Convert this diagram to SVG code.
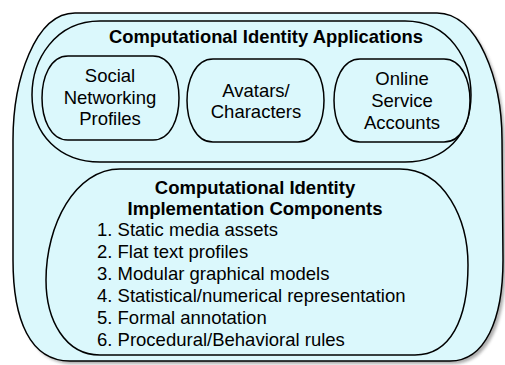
<svg xmlns="http://www.w3.org/2000/svg" width="505" height="365" viewBox="0 0 505 365">
  <defs>
    <filter id="shadow" x="-5%" y="-5%" width="115%" height="115%">
      <feGaussianBlur stdDeviation="1.5"/>
    </filter>
    <style>
      .shape { fill: #dbf8fc; stroke: #000; stroke-width: 1.5; }
      .t { font-family: "Liberation Sans", Arial, sans-serif; fill: #000; font-size: 18.5px; }
      .b { font-weight: bold; text-anchor: middle; }
      .n { text-anchor: middle; }
    </style>
  </defs>
  <rect width="505" height="365" fill="#ffffff"/>

  <g id="outer">
    <path d="M 75,13 H 437 C 478,13 502,80 502,140 L 503,260 C 503,320 485,361 450,361 H 70 C 30,361 13,320 13,260 L 13,140 C 13,80 35,13 75,13 Z" transform="translate(3,3)" fill="#777" opacity="0.6" filter="url(#shadow)"/>
    <path class="shape" d="M 75,13 H 437 C 478,13 502,80 502,140 L 503,260 C 503,320 485,361 450,361 H 70 C 30,361 13,320 13,260 L 13,140 C 13,80 35,13 75,13 Z"/>
  </g>

  <g id="applications">
    <path class="shape" d="M 100,21 H 405 C 450,21 471,60 471,95 C 471,135 445,162 405,162 H 100 C 60,162 32,135 32,95 C 32,60 55,21 100,21 Z"/>
    <text class="t b" x="266" y="43" style="font-size:18.4px">Computational Identity Applications</text>
  </g>

  <g id="social">
    <path class="shape" d="M 68,56 H 153 C 171,56 179,78 179,98 C 179,118 171,140 153,140 H 68 C 50,140 42,118 42,98 C 42,78 50,56 68,56 Z"/>
    <text class="t n" x="110" y="82">Social</text>
    <text class="t n" x="110" y="104">Networking</text>
    <text class="t n" x="110" y="125">Profiles</text>
  </g>

  <g id="avatars">
    <path class="shape" d="M 213,59 H 298 C 316,59 324,81 324,100.5 C 324,120 316,142 298,142 H 213 C 195,142 187,120 187,100.5 C 187,81 195,59 213,59 Z"/>
    <text class="t n" x="256" y="97">Avatars/</text>
    <text class="t n" x="256" y="118">Characters</text>
  </g>

  <g id="online">
    <path class="shape" d="M 360,59 H 444 C 462,59 470,81 470,100.5 C 470,120 462,142 444,142 H 360 C 342,142 334,120 334,100.5 C 334,81 342,59 360,59 Z"/>
    <text class="t n" x="402" y="85">Online</text>
    <text class="t n" x="402" y="107">Service</text>
    <text class="t n" x="402" y="129">Accounts</text>
  </g>

  <g id="components">
    <path class="shape" d="M 120,169 H 400 C 445,169 468,220 468,265 C 468,320 450,355 415,355 H 100 C 65,355 46,320 46,280 C 46,225 75,169 120,169 Z"/>
    <text class="t b" x="255" y="194">Computational Identity</text>
    <text class="t b" x="255" y="215">Implementation Components</text>
    <text class="t" x="97" y="236">1. Static media assets</text>
    <text class="t" x="97" y="258">2. Flat text profiles</text>
    <text class="t" x="97" y="280">3. Modular graphical models</text>
    <text class="t" x="97" y="302">4. Statistical/numerical representation</text>
    <text class="t" x="97" y="324">5. Formal annotation</text>
    <text class="t" x="97" y="346">6. Procedural/Behavioral rules</text>
  </g>

  <g id="connectors"></g>
</svg>
